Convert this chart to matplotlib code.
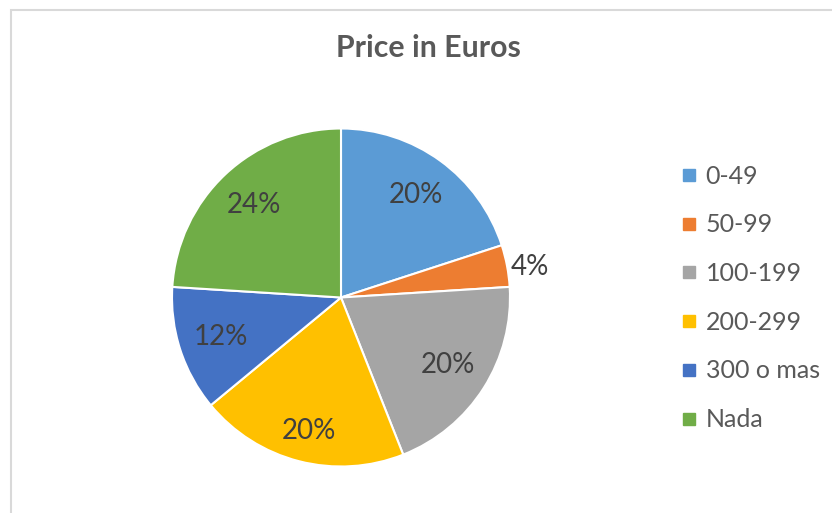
import matplotlib.pyplot as plt
from matplotlib.patches import Rectangle
from matplotlib.lines import Line2D

# ------------ Data ------------
categories = ["0-49", "50-99", "100-199", "200-299", "300 o mas", "Nada"]
shares = [20, 4, 20, 20, 12, 24]
colors = ["#5b9bd5", "#ed7d31", "#a5a5a5", "#ffc000", "#4472c4", "#70ad47"]

plt.rcParams['font.family'] = ['Lato', 'DejaVu Sans']

W, H = 832, 513
fig = plt.figure(figsize=(W / 100, H / 100), dpi=100)

# chart area border (Excel style, clipped at right/bottom)
fig.patches.append(Rectangle((11 / W, -0.05), 1.0, 1 - 10 / H + 0.05,
                             transform=fig.transFigure, fill=False,
                             edgecolor="#d9d9d9", lw=1.5))

# ------------ Pie ------------
cx, cy, r = 341, 297.5, 169
half = 210
ax = fig.add_axes([(cx - half) / W, (H - cy - half) / H, 2 * half / W, 2 * half / H])
wedges, texts, autotexts = ax.pie(
    shares, colors=colors, startangle=90, counterclock=False,
    autopct="%d%%", pctdistance=0.75,
    wedgeprops=dict(edgecolor="white", linewidth=1.5),
    textprops=dict(fontsize=20, color="#404040"))
lim = half / r
ax.set_xlim(-lim, lim)
ax.set_ylim(-lim, lim)
ax.set_aspect("equal")
ax.axis("off")

# label tweaks like Excel's best-fit placement
autotexts[1].set_position((1.12, 0.18))
autotexts[3].set_position((-0.19, -0.79))

# ------------ Title ------------
fig.text(428 / W, 1 - 48 / H, "Price in Euros", ha="center", va="center",
         fontsize=21.8, fontweight="bold", color="#595959")

# ------------ Legend ------------
handles = [Line2D([0], [0], marker="s", ls="None", mfc=c, mec=c, ms=8)
           for c in colors]
fig.legend(handles, categories, loc="upper left",
           bbox_to_anchor=(668 / W, 1 - 152 / H), frameon=False,
           fontsize=18, labelcolor="#595959", labelspacing=1.03,
           handlelength=0.7, handletextpad=0.3, borderpad=0)

fig.savefig("out.png", dpi=100)
